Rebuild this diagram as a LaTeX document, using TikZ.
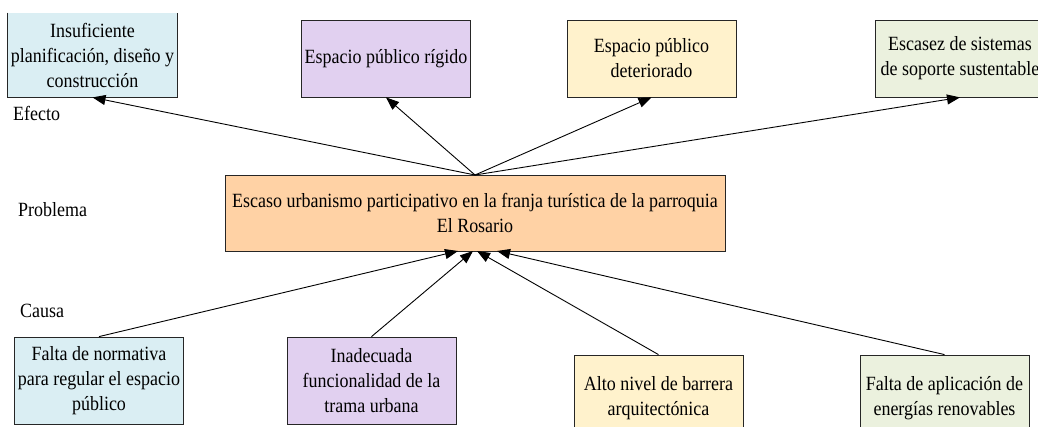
\documentclass[tikz,border=0pt]{standalone}
\usepackage{fontspec}
\setmainfont{Liberation Serif}[FakeStretch=0.89]
\usetikzlibrary{arrows.meta}
\definecolor{cblue}{RGB}{218,238,243}
\definecolor{cpurple}{RGB}{225,208,240}
\definecolor{cyellow}{RGB}{255,242,204}
\definecolor{cgreen}{RGB}{235,241,222}
\definecolor{corange}{RGB}{255,210,165}
\begin{document}
\begin{tikzpicture}[x=1pt,y=-1pt,
  txt/.style={font=\fontsize{20.2}{25}\selectfont},
  box/.style={txt, draw=black!85, line width=0.8pt, align=center, inner sep=0pt, minimum width=169pt},
  side/.style={draw=black!85, line width=0.8pt},
  arr/.style={-{Triangle[length=13pt,width=10pt]}, line width=0.9pt},
  lab/.style={txt, anchor=west, inner sep=0pt}]
\clip (0,0) rectangle (1038,427);
% effects
\node[box, draw=none, fill=cblue, minimum height=84pt] (e1) at (92.5,55) {Insuficiente\\planificación, diseño y\\construcción};
\draw[side] (e1.north west) -- (e1.south west) -- (e1.south east) -- (e1.north east);
\node[box, fill=cpurple, minimum height=77pt] (e2) at (386,58.5) {Espacio público rígido};
\node[box, fill=cyellow, minimum height=77pt] (e3) at (651.5,58.5) {Espacio público\\deteriorado};
\node[box, fill=cgreen, minimum height=77pt] (e4) at (960,58.5) {Escasez de sistemas\\de soporte sustentable};
% problem
\node[box, fill=corange, minimum width=500pt, minimum height=76pt] (p) at (475,213) {Escaso urbanismo participativo en la franja turística de la parroquia\\El Rosario};
% causes
\node[box, fill=cblue, minimum height=87pt] (c1) at (99,380.5) {Falta de normativa\\para regular el espacio\\público};
\node[box, fill=cpurple, minimum height=87pt] (c2) at (371.5,380.5) {Inadecuada\\funcionalidad de la\\trama urbana};
\node[box, fill=cyellow, minimum height=87pt] (c3) at (658.5,398.5) {Alto nivel de barrera\\arquitectónica};
\node[box, fill=cgreen, minimum height=87pt] (c4) at (944.5,398.5) {Falta de aplicación de\\energías renovables};
% labels
\node[lab] (le) at (13,113) {Efecto};
\node[lab] (lp) at (18,210) {Problema};
\node[lab] (lc) at (20,311) {Causa};
% connectors
\coordinate (ptop) at (475,175);
\coordinate (b1) at (458,251);
\coordinate (b2) at (473,251);
\coordinate (b3) at (477,251);
\coordinate (b4) at (497,251);
\draw[arr] (ptop) -- (e1.south);
\draw[arr] (ptop) -- (e2.south);
\draw[arr] (ptop) -- (e3.south);
\draw[arr] (ptop) -- (e4.south);
\draw[arr] (c1.north) -- (b1);
\draw[arr] (c2.north) -- (b2);
\draw[arr] (c3.north) -- (b3);
\draw[arr] (c4.north) -- (b4);
\end{tikzpicture}
\end{document}
